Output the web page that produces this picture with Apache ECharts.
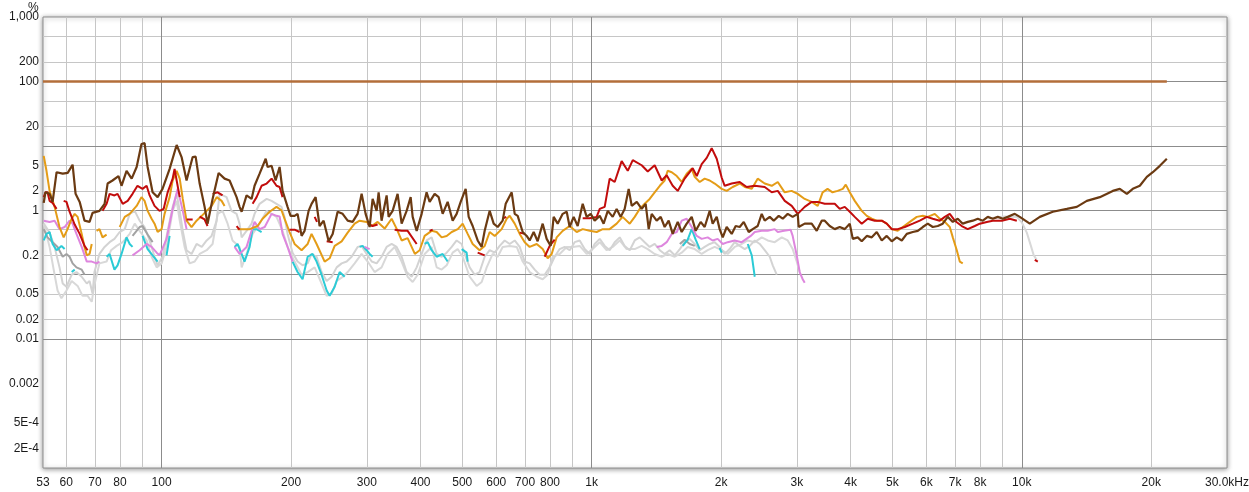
<!DOCTYPE html>
<html><head><meta charset="utf-8">
<script src="https://cdn.jsdelivr.net/npm/echarts@6.0.0/dist/echarts.min.js"></script>
<style>html,body{margin:0;padding:0;background:#fff}#c{width:1249px;height:492px}</style>
</head><body><div id="c"></div><script>
// ---- tick labels / grid values ----
const xLabelValues = [53,60,70,80,100,200,300,400,500,600,700,800,1000,2000,3000,4000,5000,6000,7000,8000,10000,20000,30000];
const xLabelTexts  = ['53','60','70','80','100','200','300','400','500','600','700','800','1k','2k','3k','4k','5k','6k','7k','8k','10k','20k','30.0kHz'];
const yLabelValues = [1000,200,100,20,5,2,1,0.2,0.05,0.02,0.01,0.002,0.0005,0.0002];
const yLabelTexts  = ['1,000','200','100','20','5','2','1','0.2','0.05','0.02','0.01','0.002','5E-4','2E-4'];
const xMajorGrid = [100,1000,10000];
const xMinorGrid = [60,70,80,90,200,300,400,500,600,700,800,900,2000,3000,4000,5000,6000,7000,8000,9000,20000];
const yMajorGrid = [100,10,1,0.1,0.01,0.001];
const yMinorGrid = [500,200,50,20,5,2,0.5,0.2,0.05,0.02,0.005,0.002,0.0005,0.0002];

// ---- fundamental (100 %) ----
const fundFreq = [53, 21738];
const fundPct  = [100, 100];

// ---- THD (brown) ----
const thdFreq = [
53.2,53.7,54.9,55.8,57.0,58.9,60.5,62.1,63.1,64.5,
66.2,68.0,69.1,71.7,73.7,74.9,76.9,79.4,80.7,82.9,
85.2,87.5,89.8,91.3,92.8,95.3,97.9,100.5,104.4,108.4,
111.3,114.3,118.1,120.0,122.6,125.9,127.9,131.4,135.7,140.1,
143.9,149.4,151.8,153.5,157.6,161.9,164.5,169.0,174.6,176.4,
180.2,184.1,188.1,191.1,196.3,199.5,203.8,207.1,211.6,215.0,
219.7,223.2,228.1,233.0,238.1,244.6,249.9,256.6,263.6,270.8,
278.1,285.6,291.8,298.1,304.6,309.5,316.2,319.6,324.7,333.6,
337.2,344.5,353.8,361.5,371.3,379.4,383.5,391.8,402.4,413.2,
420.0,431.4,440.8,450.3,462.5,475.1,485.3,495.9,509.3,517.6,
528.8,543.1,554.9,563.9,579.2,591.7,604.5,620.9,631.0,651.6,
662.2,672.9,691.2,706.1,717.4,733.0,748.8,769.2,785.8,802.9,
815.8,833.5,856.2,874.8,888.8,908.0,927.7,953.0,973.6,994.7,
1016,1044,1066,1090,1119,1143,1168,1193,1219,1239,
1273,1307,1335,1357,1379,1416,1447,1478,1510,1543,
1585,1619,1663,1708,1745,1792,1831,1881,1911,1953,
1984,2017,2060,2116,2162,2209,2257,2318,2368,2432,
2485,2525,2594,2650,2722,2781,2856,2933,3013,3029,
3128,3247,3336,3426,3482,3576,3674,3773,3876,3981,
4046,4155,4245,4361,4479,4600,4725,4853,4985,5120,
5260,5402,5579,5730,5886,6045,6209,6378,6550,6729,
6912,7098,7290,7488,7692,7901,8115,8335,8561,8794,
9032,9277,9632,9893,10438,11013,11805,12725,13425,14163,
15184,16277,16902,17548,18118,18811,19531,20168,20940,21738];
const thdPct = [
1.3,1.9,1.8,1.35,3.9,3.7,3.8,5.1,1.8,1.35,
0.69,0.66,0.91,0.98,1.26,2.6,2.9,3.4,2.4,4.1,
3.1,4.7,10.7,11,4.7,1.9,1.6,2.15,4.4,10.3,
6.7,2.9,6.7,6.8,2.6,1.13,0.62,1.5,3.8,3.1,
2.9,1.6,1.13,0.95,1.7,1.5,2.4,3.7,6.3,4.7,
4.9,2.9,4.7,2.0,1.13,0.82,0.82,0.88,0.4,0.48,
0.98,1.26,1.6,0.57,0.69,0.33,0.43,0.95,0.88,0.69,
0.66,0.88,1.8,0.88,0.55,1.5,0.98,1.9,0.69,1.7,
0.79,0.98,1.8,0.62,0.98,1.6,0.79,0.48,0.88,1.9,
1.35,1.8,1.6,0.88,1.35,0.69,0.88,1.35,2.15,0.79,
0.57,0.34,0.27,0.48,0.98,0.62,0.55,0.69,1.26,1.9,
0.88,0.82,0.46,0.4,0.34,0.46,0.33,0.62,0.36,0.28,
0.79,0.62,0.88,0.95,0.55,0.79,0.57,1.26,0.79,0.88,
0.69,0.82,0.62,0.98,0.79,1.05,0.79,1.05,2.15,1.17,
1.35,1.05,1.26,0.51,0.88,0.69,0.79,0.55,0.69,0.43,
0.66,0.46,0.62,0.79,0.48,0.66,0.55,0.98,0.62,0.79,
0.51,0.38,0.55,0.43,0.57,0.55,0.66,0.46,0.51,0.57,
0.88,0.69,0.79,0.69,0.82,0.74,0.88,0.79,0.88,0.55,
0.62,0.62,0.48,0.69,0.69,0.57,0.51,0.55,0.51,0.62,
0.36,0.38,0.33,0.4,0.38,0.46,0.34,0.4,0.33,0.38,
0.34,0.43,0.46,0.48,0.55,0.62,0.55,0.57,0.62,0.79,
0.66,0.74,0.62,0.66,0.69,0.74,0.69,0.79,0.74,0.79,
0.74,0.79,0.88,0.79,0.62,0.79,0.95,1.05,1.13,1.4,
1.6,2.0,2.15,1.8,2.15,2.4,3.3,3.9,4.9,6.3];

// ---- H2 (red) ----
const h2Freq = [
53.2,53.7,54.3,54.9,55.8,57.0,58.3,59.2,60.1,61.1,
62.8,64.5,66.2,67.3,70.0,72.9,74.5,75.7,77.7,79.0,
81.2,83.4,85.6,87.9,90.3,92.3,93.8,96.3,98.9,101.1,
103.3,106.1,107.2,108.4,110.2,112,114.3,118.1,120,122.6,
125.9,127.9,130,131.4,135.0,138.6,145,149.4,151.8,158,
162.8,166.3,170.8,175.5,180.2,185.0,188.1,191.1,195,198.4,
203.8,209.3,220,226.9,229.8,235,242.0,249.9,270,301.4,
309.5,317.9,330,348.2,361.5,373.3,391.8,400,420.0,426.8,
480,543.1,563.9,600,622,633,645,680.2,698.6,740,
777.4,798.6,820.2,900,953.0,989.4,1027,1044,1072,1101,
1131,1174,1213,1246,1307,1350,1401,1455,1494,1543,
1585,1645,1690,1717,1755,1802,1851,1901,1953,2006,
2038,2116,2209,2293,2394,2525,2622,2708,2811,2918,
3013,3128,3247,3354,3482,3674,3773,3876,3981,4089,
4245,4384,4551,4725,4853,4985,5147,5345,5579,5792,
6013,6209,6446,6622,6801,6986,7251,7488,7775,7986,
8291,8561,8984,9377,9737,10400,10721,10895];
const h2Pct = [
1.6,1.9,1.9,1.4,1.3,1.05,null,1.4,1.35,0.95,
0.6,0.43,0.28,0.24,null,0.98,1.26,1.8,1.7,1.8,
1.26,1.4,1.8,2.4,2.15,2.4,1.7,1.17,0.98,1.05,
1.9,3.1,4.4,2.9,1.6,null,0.72,0.72,null,0.8,
0.72,0.57,null,1.8,1.9,1.7,null,0.57,0.5,null,
1.26,1.6,2.4,2.6,3.1,2.4,2.3,1.6,null,0.5,
0.5,0.46,null,0.79,0.66,null,0.33,0.32,null,0.62,
0.57,0.6,null,0.5,0.48,0.48,0.3,null,0.48,0.5,
null,0.22,0.2,null,0.75,0.79,null,0.45,0.43,null,
0.19,0.28,0.35,null,0.75,0.75,0.79,1.05,1.13,3.1,
2.75,5.8,4.1,6.0,5.0,4.0,5.0,2.9,3.5,2.4,
2.0,3.1,3.9,4.5,3.4,5.2,6.5,9.2,6.3,3.2,
2.4,2.6,2.75,2.3,2.4,2.3,1.9,2.0,1.4,1.17,
0.88,1.13,1.35,1.35,1.26,1.26,1.05,1.13,0.95,0.79,
0.62,0.74,0.69,0.69,0.62,0.51,0.51,0.55,0.62,0.69,
0.79,0.74,0.69,0.79,0.88,0.69,0.57,0.51,0.57,0.62,
0.66,0.69,0.69,0.74,0.69,null,0.17,0.16];

// ---- H3 (orange) ----
const h3Freq = [
53.2,54.0,54.9,56.4,57.9,59.2,60.45,61.8,62.8,63.8,
65.2,66.2,67.0,68.0,68.8,69.7,70.6,71.7,72.9,74.5,
77,79.9,82.1,84.3,87.5,89.8,91.3,92.8,94.8,96.3,
97.9,100,101.6,104.4,106.1,108.4,110.2,112.0,114.3,117.4,
120.6,124.0,127.3,130.7,134.3,137.9,140.1,145,150.2,160.2,
167.2,171.7,178.3,185.0,190.0,193.1,198.4,203.8,211.6,218.6,
223.2,229.3,239.4,245.9,252.6,262.2,270.8,281.1,288.7,299.7,
308.0,317.9,330.1,342.7,351.9,361.5,373.3,388.0,398.1,408.9,
424.5,436.1,447.9,460.1,472.6,488.4,501.2,514.8,528.8,548.7,
563.9,579.2,595.0,617.6,634.4,644.7,662.2,680.2,698.6,717.4,
745.0,769.2,790.1,807.2,829.0,856.2,888.8,922.8,953.0,989.4,
1027,1061,1101,1143,1180,1226,1259,1293,1328,1364,
1401,1440,1478,1502,1535,1577,1619,1663,1708,1736,
1783,1831,1881,1932,2006,2060,2127,2209,2269,2356,
2432,2525,2622,2708,2810,2916,3013,3128,3247,3354,
3443,3535,3630,3730,3836,3897,3981,4089,4245,4361,
4479,4600,4725,4853,4985,5147,5288,5491,5699,5886,
6045,6276,6445,6622,6801,6912,7061,7175,7290];
const h3Pct = [
7.0,4.1,2.0,1.13,0.55,0.38,0.51,0.74,0.88,0.79,
0.43,0.27,0.2,0.21,0.3,null,0.48,0.51,0.38,0.42,
null,0.55,0.79,0.88,1.17,1.6,1.4,0.98,0.74,0.62,
0.46,0.51,0.88,1.6,2.9,4.1,3.1,1.5,0.69,0.55,
0.69,0.82,0.98,1.17,1.6,1.4,1.17,null,0.51,0.51,
0.57,0.74,0.95,1.13,1.0,0.74,0.46,0.3,0.24,0.3,
0.43,0.3,0.16,0.18,0.28,0.33,0.45,0.62,0.69,0.66,
0.57,0.66,0.52,0.74,0.52,0.34,0.37,0.21,0.24,0.4,
0.48,0.46,0.38,0.4,0.46,0.51,0.62,0.43,0.3,0.24,
0.28,0.46,0.4,0.51,0.74,0.82,0.62,0.43,0.32,0.27,
0.3,0.25,0.18,0.21,0.38,0.48,0.57,0.46,0.51,0.48,
0.46,0.51,0.51,0.62,0.79,0.62,0.79,1.05,1.26,1.5,
1.9,2.4,2.9,4.1,3.9,3.4,2.75,3.7,4.4,3.3,
2.75,3.1,2.9,2.6,2.15,2.0,2.3,2.6,2.3,2.15,
3.1,2.6,2.4,2.75,1.9,2.0,1.8,1.5,1.35,1.17,
1.9,2.15,1.9,2.0,2.15,2.5,1.9,1.4,0.98,0.82,
0.74,0.69,0.69,0.62,0.51,0.48,0.55,0.66,0.79,0.82,
0.79,0.88,0.74,0.66,0.55,0.38,0.24,0.16,0.15];

// ---- H4 (violet) ----
const h4Freq = [
53.2,54.9,56.4,57.9,59.5,61.1,62.1,63.4,65.2,67.0,
68.8,70.6,71.7,80,85.6,88.9,92.3,94.8,97.4,98.9,
102.7,106.1,109.0,112.0,114.3,130,147.8,151.8,157.6,161.9,
164.5,169.0,173.7,180.2,185.0,188.1,191.1,196.3,201.6,250,
296.5,304.6,800,1416,1455,1494,1535,1577,1619,1663,
1708,1755,1802,1861,1911,1963,2017,2071,2150,2233,
2343,2394,2485,2566,2664,2708,2800,2900,2933,2997,
3045,3095,3128];
const h4Pct = [
0.69,0.66,0.69,0.51,0.55,0.69,0.62,0.43,0.27,0.16,
0.16,0.15,0.16,null,0.2,0.24,0.3,0.27,0.22,0.2,
0.36,1.05,2.15,0.98,0.51,null,0.27,0.21,0.27,0.48,
0.66,0.51,0.55,0.88,0.82,0.8,0.43,0.27,0.16,null,
0.27,0.25,null,0.27,0.28,0.32,0.43,0.46,0.69,0.74,
0.55,0.4,0.36,0.38,0.34,0.36,0.3,0.32,0.34,0.32,
0.4,0.46,0.48,0.48,0.51,0.46,0.48,0.5,0.4,0.2,
0.11,0.085,0.075];

// ---- H5 (cyan) ----
const h5Freq = [
53.2,54.0,54.9,55.8,57.0,58.5,59.5,60.5,61.8,62.8,
70,74.5,75.7,77.7,79.0,80.7,82.9,84.3,85.6,88,
90.3,92.8,95.3,97.9,100,102.7,104.4,130,147.8,150.2,
153.5,155.9,160.2,162.8,166.3,170.8,180,201.6,207.1,212.7,
218.6,224.4,229.3,235.5,242.0,245.9,252.6,259.4,266.5,275,
288.7,293.4,299.7,304.6,309.5,350,408.9,415.6,424.5,436.1,
450.3,462.5,480,498.5,512.0,514.8,1000,1628,1672,1708,
1745,1783,1900,1984,2006,2200,2306,2356,2394];
const h5Pct = [
0.34,0.43,0.46,0.3,0.24,0.28,0.25,null,0.11,0.12,
null,0.19,0.21,0.12,0.14,0.21,0.38,0.3,0.27,null,
0.4,0.25,0.2,0.16,null,0.2,0.4,null,0.27,0.3,
0.21,0.16,0.27,0.51,0.51,0.46,null,0.16,0.11,0.085,
0.19,0.21,0.16,0.1,0.057,0.047,0.065,0.11,0.093,null,
0.27,0.28,0.24,0.21,0.19,null,0.3,0.32,0.24,0.19,
0.21,0.16,null,0.25,0.22,0.16,null,0.28,0.35,0.51,
0.35,0.25,null,0.26,0.22,null,0.3,0.2,0.093];

// ---- H6 (mid grey) ----
const h6Freq = [53.2,54.3,55.8,57.3,58.9,60.1,61.1,62.1,63.4,65.2,66.2,75,85.6,88.9,90.3,92.8,95.3,500,1603,1645,1690,1736];
const h6Pct  = [0.51,0.38,0.32,0.27,0.19,0.21,0.19,0.15,0.13,0.12,0.1,null,0.4,0.55,0.57,0.42,0.32,null,0.3,0.35,0.3,0.28];

// ---- H7 (light grey, upper) ----
const h7Freq = [
53.2,54.9,56.4,57.9,58.9,60.1,61.8,63.4,65.2,67.0,
68.0,69.1,69.8,71.7,73.7,75.7,77.7,79.9,82.1,84.3,
86.6,88.9,91.3,93.8,96.3,97.9,100.5,103.3,106.1,108.4,
110.2,112.0,114.3,117.4,120.6,124.0,127.3,130.7,134.3,136.4,
141.6,145.4,149.4,151.8,153.5,157.6,161.9,164.5,169.0,175.5,
180.2,185.0,190.0,193.1,196.3,201.6,207.1,212.7,218.6,223.2,
229.3,235.5,242.0,248.6,255.3,262.2,269.4,276.6,285.6,291.8,
299.7,308.0,316.2,324.7,333.6,342.7,351.9,361.5,371.3,381.4,
391.8,402.4,413.2,424.5,436.1,447.9,460.1,472.6,485.3,498.5,
506.6,520.4,534.5,548.7,563.9,579.2,595.0,611.1,627.6,644.7,
662.2,680.2,698.6,717.4,737.0,757.0,777.4,798.6,820.2,842.4,
865.4,888.8,912.9,937.8,963.2,989.4,1016,1044,1072,1101,
1131,1162,1193,1226,1259,1293,1328,1364,1401,1440,
1478,1518,1560,1603,1645,1690,1736,1783,1831,1881,
1932,1984,2038,2093,2150,2209,2269,2331,2394,2459,
2525,2594,2636,2693];
const h7Pct = [
0.62,0.45,0.27,0.13,0.073,0.065,0.1,0.11,0.093,0.073,
0.08,0.051,0.11,0.21,0.27,0.32,0.36,0.46,0.51,0.88,
0.98,0.69,0.55,0.34,0.19,0.14,0.19,0.48,1.13,1.8,
0.98,0.48,0.24,0.21,0.3,0.27,0.34,0.4,0.69,1.8,
1.6,0.98,0.88,0.62,0.38,0.48,0.62,0.88,1.26,1.5,
1.4,1.26,1.13,0.79,0.43,0.22,0.16,0.14,0.15,0.21,
0.19,0.11,0.08,0.093,0.13,0.15,0.16,0.19,0.27,0.28,
0.21,0.16,0.15,0.19,0.27,0.3,0.27,0.19,0.11,0.093,
0.13,0.21,0.34,0.38,0.21,0.19,0.22,0.27,0.34,0.3,
0.21,0.13,0.1,0.11,0.19,0.24,0.22,0.28,0.34,0.3,
0.34,0.27,0.16,0.15,0.12,0.1,0.1,0.13,0.19,0.25,
0.27,0.24,0.32,0.34,0.25,0.21,0.3,0.36,0.28,0.24,
0.32,0.38,0.28,0.24,0.34,0.38,0.32,0.27,0.3,0.24,
0.21,0.24,0.2,0.25,0.32,0.36,0.3,0.24,0.27,0.3,
0.32,0.27,0.21,0.25,0.32,0.28,0.25,0.28,0.34,0.3,
0.24,0.19,0.14,0.1];

// ---- H8 (light grey, lower) ----
const h8Freq = [
53.2,54.9,56.4,57.3,58.5,60.1,61.8,63.8,65.5,67.3,
68.8,69.8,71.7,74.5,76.3,78.6,81.2,84.3,86.6,88.9,
92.3,94.8,97.4,100,102.7,106.1,108.4,110.2,113.1,116.2,
119.4,122.6,127.3,131.4,135.0,138.6,142.4,146.2,151.8,153.5,
157.6,162.8,169.0,175.5,180.2,185.0,191.1,196.3,203.8,211.6,
218.6,226.9,235.5,242.0,248.6,255.3,262.2,270.8,281.1,291.8,
301.4,312.8,324.7,335.4,348.2,361.5,373.3,383.5,394.0,408.9,
424.5,436.1,447.9,460.1,475.1,488.0,501.2,520.4,540.2,554.9,
570.0,588.6,604.5,620.9,644.7,669.3,691.2,717.4,745.0,769.2,
790.1,811.5,842.4,874.8,903.2,937.8,973.6,1005,1044,1084,
1119,1162,1206,1259,1307,1350,1401,1455,1502,1560,
1619,1672,1736,1802,1861,1932,2006,2071,2150,2233,
2306,2394,2485,2566,2664,2766,2856,2933,2997,3045];
const h8Pct = [
0.62,0.27,0.1,0.057,0.043,0.057,0.08,0.067,0.047,0.047,
0.038,0.07,0.15,0.16,0.24,0.28,0.32,0.43,0.62,0.48,
0.34,0.19,0.13,0.15,0.27,0.98,1.4,0.69,0.27,0.15,
0.16,0.21,0.24,0.3,0.88,0.98,0.62,0.34,0.27,0.13,
0.21,0.43,0.62,0.98,0.88,0.79,0.48,0.27,0.16,0.1,
0.11,0.13,0.073,0.047,0.051,0.08,0.09,0.11,0.15,0.21,
0.16,0.11,0.13,0.21,0.27,0.16,0.093,0.077,0.1,0.21,
0.27,0.13,0.12,0.14,0.22,0.25,0.19,0.093,0.067,0.077,
0.13,0.21,0.19,0.27,0.28,0.27,0.16,0.11,0.093,0.085,
0.1,0.19,0.21,0.27,0.27,0.28,0.21,0.25,0.32,0.24,
0.27,0.34,0.25,0.25,0.28,0.25,0.21,0.19,0.21,0.19,
0.22,0.27,0.25,0.21,0.24,0.27,0.24,0.21,0.27,0.3,
0.34,0.32,0.38,0.34,0.32,0.38,0.34,0.25,0.16,0.11];

// ---- H9 (light grey, high-frequency tail) ----
const h9Freq = [8425,9130,9737,10000,10272,10500,10660,10832];
const h9Pct  = [0.75,0.8,0.79,0.65,0.45,0.28,0.2,0.17];

// ---- colours ----
const C = {
  fund:'#B36E3A', thd:'#6B3A12', h2:'#C20C0C', h3:'#E49C17', h4:'#DE86DE',
  h5:'#2BCBD6', h6:'#A2A2A2', h7:'#D3D3D3', h8:'#D8D8D8', h9:'#D8D8D8',
  gridMajor:'#8C8C8C', gridMinor:'#C6C6C6', text:'#1A1A1A'
};

function pairs(f, p) { return f.map((x, i) => [x, p[i] == null ? '-' : p[i]]); }
function nearestText(v, vals, texts) {
  let best = 0, bd = Infinity;
  vals.forEach((t, i) => { const d = Math.abs(Math.log(v / t)); if (d < bd) { bd = d; best = i; } });
  return bd < 0.01 ? texts[best] : '';
}
function lineSeries(name, f, p, color, width) {
  return { name, type:'line', data: pairs(f, p), showSymbol:false, symbol:'none',
    connectNulls:false, silent:true, animation:false, z:3,
    lineStyle:{ color, width }, itemStyle:{ color } };
}

const gridMarks = [].concat(
  xMinorGrid.map(v => ({ xAxis: v, lineStyle: { color: C.gridMinor, width: 1, type: 'solid' } })),
  yMinorGrid.map(v => ({ yAxis: v, lineStyle: { color: C.gridMinor, width: 1, type: 'solid' } })),
  xMajorGrid.map(v => ({ xAxis: v, lineStyle: { color: C.gridMajor, width: 1, type: 'solid' } })),
  yMajorGrid.map(v => ({ yAxis: v, lineStyle: { color: C.gridMajor, width: 1, type: 'solid' } }))
);

const font = 'Liberation Sans, Arial, sans-serif';
const chart = echarts.init(document.getElementById('c'), null, { renderer: 'canvas' });
chart.setOption({
  animation: false,
  backgroundColor: '#ffffff',
  grid: { left: 43, right: 22, top: 17, bottom: 24, show: true, backgroundColor: '#ffffff',
          outerBoundsMode: 'none', containLabel: false,
          borderColor: '#8E8E8E', borderWidth: 1, shadowColor: 'rgba(0,0,0,0.4)', shadowBlur: 5,
          shadowOffsetX: 0, shadowOffsetY: 1 },
  xAxis: { type: 'log', logBase: 10, min: 53, max: 30000,
    axisLine: { show: false }, axisTick: { show: false }, splitLine: { show: false },
    axisLabel: { customValues: xLabelValues, showMinLabel: true, showMaxLabel: true, hideOverlap: false,
      formatter: v => nearestText(v, xLabelValues, xLabelTexts),
      fontSize: 12, color: C.text, fontFamily: font, margin: 9 } },
  yAxis: { type: 'log', logBase: 10, min: 0.0001, max: 1000,
    axisLine: { show: false }, axisTick: { show: false }, splitLine: { show: false },
    axisLabel: { customValues: yLabelValues, showMinLabel: true, showMaxLabel: true, hideOverlap: false,
      formatter: v => nearestText(v, yLabelValues, yLabelTexts),
      fontSize: 12, color: C.text, fontFamily: font, margin: 4 } },
  graphic: [{ type: 'text', left: 28, top: 2, silent: true,
    style: { text: '%', fontSize: 12, fill: C.text, fontFamily: font } }],
  series: [
    { name: 'grid', type: 'line', data: [[1000, 100]], symbol: 'none', silent: true, z: 1,
      lineStyle: { opacity: 0 },
      markLine: { silent: true, z: 1, symbol: ['none', 'none'], label: { show: false },
        emphasis: { disabled: true }, animation: false, data: gridMarks } },
    lineSeries('H9', h9Freq, h9Pct, C.h9, 2),
    lineSeries('H8', h8Freq, h8Pct, C.h8, 2),
    lineSeries('H7', h7Freq, h7Pct, C.h7, 2),
    lineSeries('H6', h6Freq, h6Pct, C.h6, 2),
    lineSeries('H5', h5Freq, h5Pct, C.h5, 2),
    lineSeries('H4', h4Freq, h4Pct, C.h4, 2),
    lineSeries('H3', h3Freq, h3Pct, C.h3, 2),
    lineSeries('H2', h2Freq, h2Pct, C.h2, 2),
    lineSeries('THD', thdFreq, thdPct, C.thd, 2.2),
    lineSeries('Fundamental', fundFreq, fundPct, C.fund, 2.5)
  ]
});
</script></body></html>
